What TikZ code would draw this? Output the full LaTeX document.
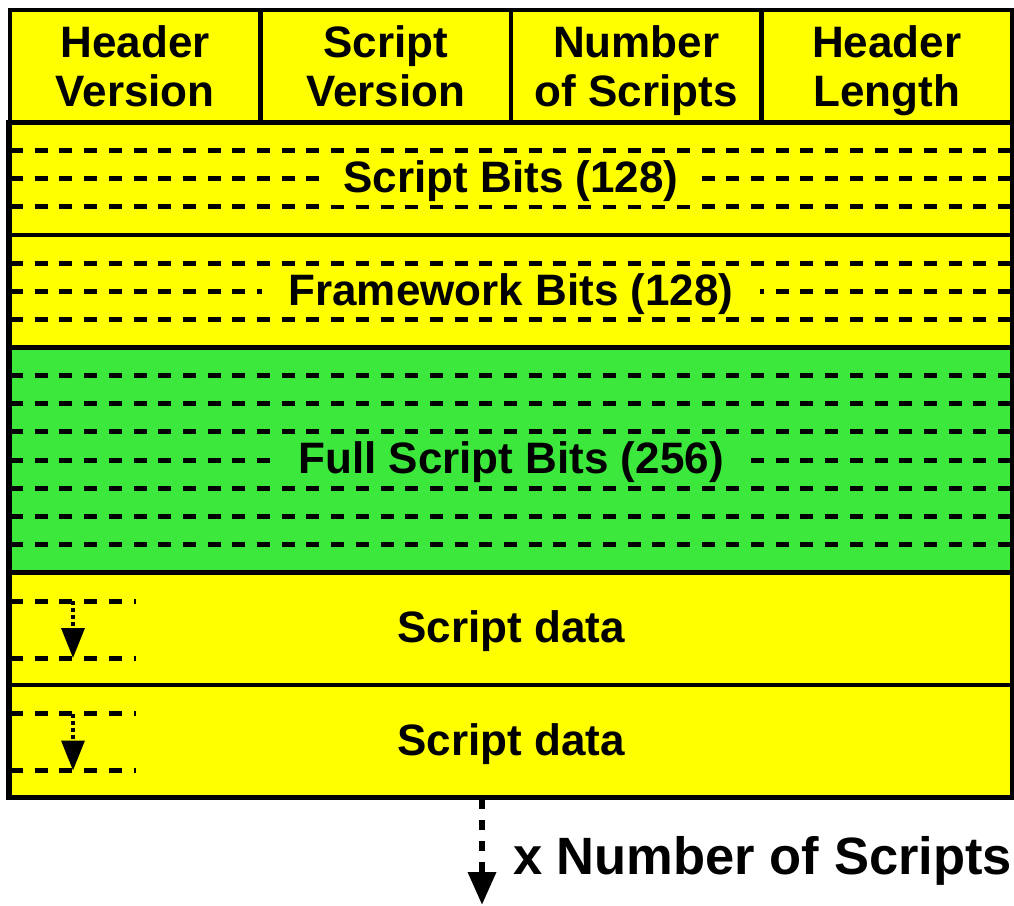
\documentclass[tikz,border=0pt]{standalone}
\usepackage{fontspec}
\setmainfont{Liberation Sans}
\usetikzlibrary{arrows.meta}
\definecolor{ybox}{RGB}{255,255,0}
\definecolor{gbox}{RGB}{60,232,60}
\tikzset{
  cell/.style={draw=black, line width=4.5pt, fill=ybox, inner sep=0pt,
    minimum width=250.5pt, minimum height=112.5pt},
  celltext/.style={inner sep=0pt, align=center, yshift=-4.5pt,
    font=\bfseries\fontsize{44}{49}\selectfont},
  row/.style={draw=black, line width=4.5pt, inner sep=0pt, minimum width=1002pt},
  dashline/.style={line width=5pt, dash pattern=on 13pt off 11.7pt},
  rowtext/.style={inner ysep=3pt, yshift=-2.5pt, font=\bfseries\fontsize{44}{49}\selectfont},
  downarrow/.style={line width=3.5pt, dash pattern=on 4pt off 3pt,
    -{Triangle[width=23pt,length=30pt]}},
  morearrow/.style={line width=6.5pt, dash pattern=on 10pt off 11pt,
    -{Triangle[width=27pt,length=33pt]}},
}
\begin{document}
\begin{tikzpicture}[x=1pt,y=-1pt]
\useasboundingbox (0,0) rectangle (1014,905);
% rows
\node[row, fill=ybox, minimum height=112.5pt] (sb) at (511,178.75) {};
\node[row, fill=ybox, minimum height=112.5pt] (fw) at (511,291.25) {};
\node[row, fill=gbox, minimum height=225pt] (fs) at (511,460) {};
\node[row, fill=ybox, minimum height=112.5pt] (sd1) at (511,628.75) {};
\node[row, fill=ybox, minimum height=112.5pt] (sd2) at (511,741.25) {};
% header cells
\node[cell] (hv) at (135.25,66.25) {};
\node[cell] (sv) at (385.75,66.25) {};
\node[cell] (ns) at (636.25,66.25) {};
\node[cell] (hl) at (886.75,66.25) {};
\node[celltext] (hvt) at (hv) {Header\\Version\vphantom{g}};
\node[celltext] (svt) at (sv) {Script\\Version\vphantom{g}};
\node[celltext] (nst) at (ns) {Number\\of Scripts};
\node[celltext] (hlt) at (hl) {Header\\Length};
% dashed lines
\foreach \y in {150.6,178.75,206.9,263.1,291.25,319.4,375.6,403.75,431.9,460,488.1,516.25,544.4}
  \draw[dashline] (10,\y) -- (1012,\y);
\foreach \y in {601,658,713.5,770.5}
  \draw[dashline] (10,\y) -- (136,\y);
% row texts
\node[rowtext, fill=ybox, inner xsep=17pt] (sbt) at (sb) {Script Bits (128)};
\node[rowtext, fill=ybox, inner xsep=26pt] (fwt) at (fw) {Framework Bits (128)};
\node[rowtext, fill=gbox, inner xsep=27pt] (fst) at (fs) {Full Script Bits (256)};
\node[rowtext] (sd1t) at (sd1) {Script data};
\node[rowtext] (sd2t) at (sd2) {Script data};
% redraw outer left/right borders over dashes
\draw[line width=4.5pt] (sb.north west) -- (sd2.south west);
\draw[line width=4.5pt] (sb.north east) -- (sd2.south east);
% small arrows
\coordinate (a1s) at (73,601);
\coordinate (a1e) at (73,658);
\coordinate (a2s) at (73,713.5);
\coordinate (a2e) at (73,770.5);
\draw[downarrow] (a1s) -- (a1e);
\draw[downarrow] (a2s) -- (a2e);
% bottom arrow
\coordinate (bs) at (482,799);
\coordinate (be) at (482,905);
\draw[morearrow] (bs) -- (be);
\node[anchor=west, inner sep=0pt, font=\bfseries\fontsize{52.5}{58}\selectfont] (xn) at (513,861) {x Number of Scripts};
\end{tikzpicture}
\end{document}
